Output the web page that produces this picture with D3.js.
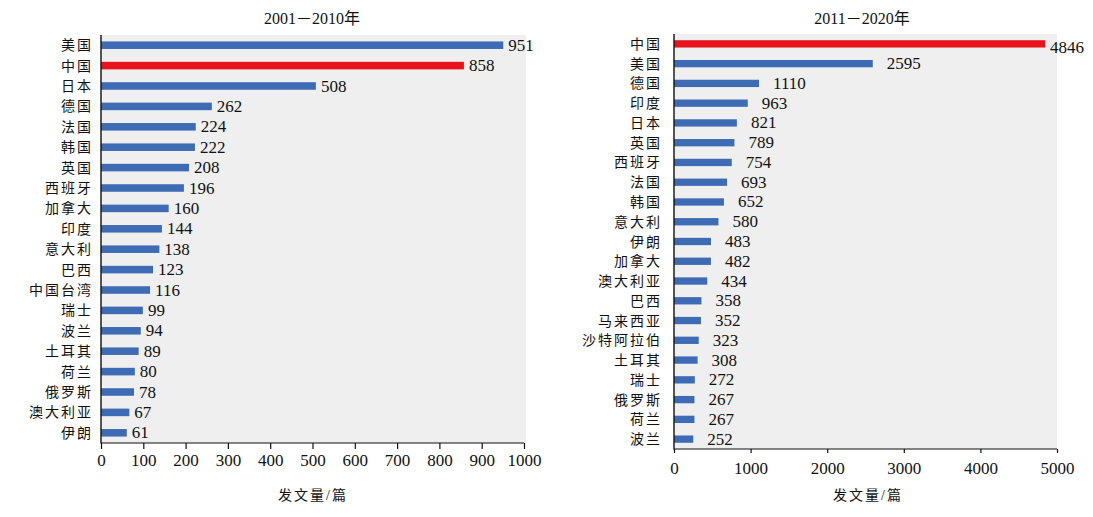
<!DOCTYPE html>
<html><head><meta charset="utf-8">
<script src="https://cdn.jsdelivr.net/npm/d3@7"></script>
<style>
body{margin:0;background:#fff;}
text{font-family:"Liberation Serif","Times New Roman","Noto Sans CJK SC",serif;fill:#111;}
.cjk{font-family:"Liberation Serif","Noto Sans CJK SC",serif;}
</style></head>
<body>
<svg id="c" width="1093" height="517"></svg>
<script>
const leftCategories = ["美国","中国","日本","德国","法国","韩国","英国","西班牙","加拿大","印度","意大利","巴西","中国台湾","瑞士","波兰","土耳其","荷兰","俄罗斯","澳大利亚","伊朗"];
const leftValues = [951,858,508,262,224,222,208,196,160,144,138,123,116,99,94,89,80,78,67,61];
const leftTicks = [0,100,200,300,400,500,600,700,800,900,1000];

const rightCategories = ["中国","美国","德国","印度","日本","英国","西班牙","法国","韩国","意大利","伊朗","加拿大","澳大利亚","巴西","马来西亚","沙特阿拉伯","土耳其","瑞士","俄罗斯","荷兰","波兰"];
const rightValues = [4846,2595,1110,963,821,789,754,693,652,580,483,482,434,358,352,323,308,272,267,267,252];
const rightTicks = [0,1000,2000,3000,4000,5000];

const titles = ["2001－2010年","2011－2020年"];
const axisTitle = "发文量/篇";
const highlight = "中国";

const svg = d3.select("#c");
const BLUE = "#3e6cb4", RED = "#e8141c", BG = "#eeefee";

function panel(cfg){
  const {cats, vals, ticks, x0, x1, bgRight, y0, y1, domainMax, title, titleX, labelGap, catRight, tickY, axisTitleY, axisTitleX, tickLen, maxLabelX} = cfg;
  const g = svg.append("g");
  const x = d3.scaleLinear().domain([0, domainMax]).range([x0, x1]);
  const y = d3.scaleBand().domain(cats).range([y0, y1]).paddingInner(0.63).paddingOuter(0.315);
  g.append("rect").attr("x", x0).attr("y", y0).attr("width", bgRight - x0).attr("height", y1 - y0).attr("fill", BG);
  g.selectAll(".bar").data(cats).enter().append("rect")
    .attr("x", x0).attr("y", d => y(d)).attr("height", y.bandwidth())
    .attr("width", (d,i) => x(vals[i]) - x0)
    .attr("fill", d => d === highlight ? RED : BLUE);
  g.selectAll(".val").data(cats).enter().append("text")
    .attr("x", (d,i) => Math.min(x(vals[i]) + labelGap, maxLabelX))
    .attr("y", (d,i) => y(d) + y.bandwidth()/2 + 5.5 + ((x(vals[i]) + labelGap > maxLabelX) ? 4 : 0))
    .attr("font-size", 17)
    .text((d,i) => vals[i]);
  g.selectAll(".cat").data(cats).enter().append("text")
    .attr("class","cjk")
    .attr("x", catRight + 2).attr("y", d => y(d) + y.bandwidth()/2 + 5)
    .attr("text-anchor","end").attr("font-size", 14).attr("letter-spacing", 2)
    .text(d => d);
  const ax = g.append("g").attr("transform", `translate(0,${y1})`)
    .call(d3.axisBottom(x).tickValues(ticks).tickSize(tickLen).tickFormat(d3.format("d")));
  ax.select(".domain").attr("stroke","#111").attr("stroke-width",1.2).attr("d", `M${x0},0H${x1}`);
  ax.selectAll(".tick line").attr("stroke","#111").attr("stroke-width",1.2);
  ax.selectAll(".tick text").attr("font-size",17).attr("font-family","Liberation Serif, serif").attr("fill","#111")
    .attr("y", tickY - y1).attr("dy", 0);
  g.append("line").attr("x1", x0).attr("x2", x0).attr("y1", y0).attr("y2", y1 + 0.6).attr("stroke","#111").attr("stroke-width",1.4);
  g.append("text").attr("class","cjk").attr("x", titleX).attr("y", 24).attr("text-anchor","middle").attr("font-size",16).text(title);
  g.append("text").attr("class","cjk").attr("x", axisTitleX).attr("y", axisTitleY).attr("text-anchor","middle")
    .attr("font-size",14).attr("letter-spacing",2).text(axisTitle);
}

panel({cats:leftCategories, vals:leftValues, ticks:leftTicks, x0:101, x1:524, bgRight:526, y0:35, y1:443,
  domainMax:1000, title:titles[0], titleX:312, labelGap:5, catRight:91, tickY:466, axisTitleY:500, axisTitleX:313, tickLen:6, maxLabelX:1093});
panel({cats:rightCategories, vals:rightValues, ticks:rightTicks, x0:674, x1:1057, bgRight:1057, y0:34, y1:449,
  domainMax:5000, title:titles[1], titleX:862, labelGap:14, catRight:660, tickY:474, axisTitleY:500, axisTitleX:868, tickLen:4, maxLabelX:1050});
</script>
</body></html>
